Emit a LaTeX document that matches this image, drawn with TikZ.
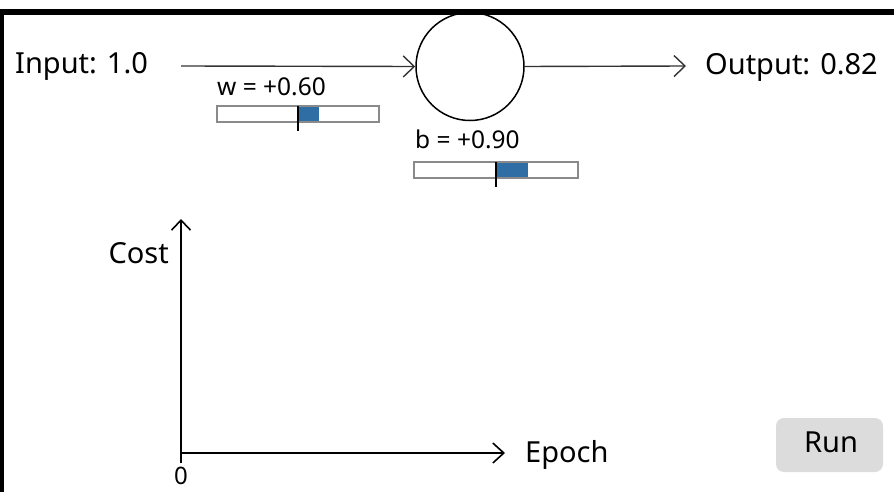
\documentclass[tikz,border=0pt]{standalone}
\usepackage{fontspec}
\setmainfont{Noto Sans}
\usetikzlibrary{arrows.meta}
\definecolor{sliderblue}{HTML}{2F6EA5}
\definecolor{sliderframe}{HTML}{8A8A8A}
\definecolor{btngray}{HTML}{DCDCDC}
\tikzset{
  big/.style={font=\fontsize{29}{32}\selectfont, inner sep=0pt, anchor=base west},
  small/.style={font=\fontsize{24.5}{27}\selectfont, inner sep=0pt, anchor=base west},
  wire/.style={draw=black!80, line width=1.4pt, -{Straight Barb[length=11pt,width=21pt,line width=1.4pt]}},
  axis/.style={draw=black, line width=1.6pt},
  track/.style={draw=sliderframe, fill=white, line width=1.5pt},
  knob/.style={fill=sliderblue},
  tick/.style={draw=black, line width=1.5pt},
}
\begin{document}
\begin{tikzpicture}[x=1pt,y=-1pt]
\useasboundingbox (0,0) rectangle (894,492);
\fill[white] (0,0) rectangle (894,492);

% frame edges
\draw[line width=6pt] (0,12) -- (894,12);
\draw[line width=4.5pt] (2,9) -- (2,492);

% neuron
\node[big] (in) at (15,74) {Input: 1.0};
\coordinate (wstart) at (181,66);
\node[circle, draw=black, line width=1.5pt, minimum size=108pt, inner sep=0pt] (neuron) at (470,66.5) {};
\coordinate (oend) at (686,66);
\draw[wire] (wstart) -- (neuron.west);
\draw[wire] (neuron.east) -- (oend);
\node[big] (out) at (705,75) {Output: 0.82};

% weight slider
\node[small] (wlab) at (217,96) {w = +0.60};
\draw[track] (217,106) rectangle (379,122);
\fill[knob] (298,106.8) rectangle (319,121.2);
\draw[tick] (298,106) -- (298,131);

% bias slider
\node[small] (blab) at (415,149) {b = +0.90};
\draw[track] (414,162) rectangle (578,178);
\fill[knob] (496,162.8) rectangle (528,177.2);
\draw[tick] (496,162) -- (496,187);

% cost plot axes
\coordinate (orig) at (181,453);
\coordinate (ytop) at (181,219);
\coordinate (ybot) at (181,463);
\coordinate (xend) at (505,453);
\draw[axis, -{Straight Barb[length=10pt,width=19pt,line width=1.6pt]}] (ybot) -- (ytop);
\draw[axis, -{Straight Barb[length=11pt,width=20pt,line width=1.6pt]}] (orig) -- (xend);
\node[big, anchor=base east] (cost) at (169,263) {Cost};
\node[big] (epoch) at (525,462) {Epoch};
\node[font=\fontsize{24}{26}\selectfont, inner sep=0pt, anchor=base] (zero) at (181,484) {0};

% run button
\node[draw=none, fill=btngray, rounded corners=8pt, minimum width=107pt, minimum height=54pt, inner sep=0pt] (run) at (829.5,445) {};
\node[big, anchor=base] (runlab) at (831,452) {Run};
\end{tikzpicture}
\end{document}
